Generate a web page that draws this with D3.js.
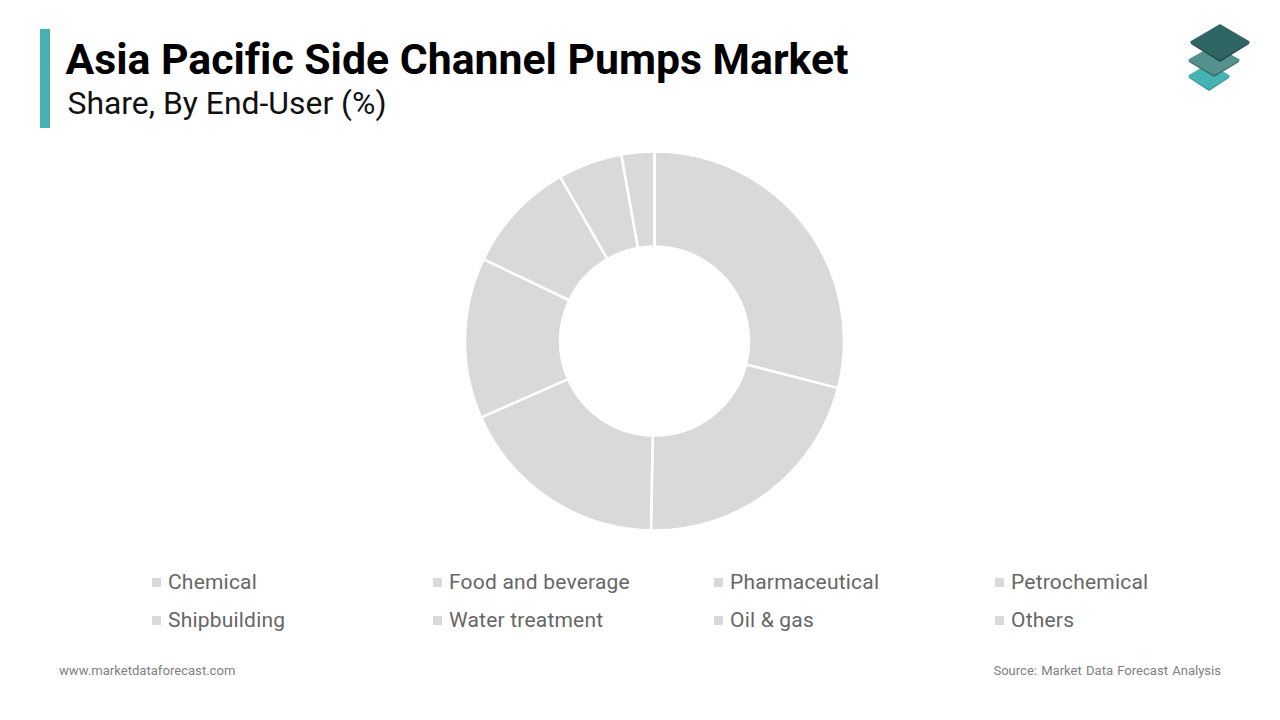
<!DOCTYPE html>
<html>
<head>
<meta charset="utf-8">
<script src="https://cdn.jsdelivr.net/npm/d3@7"></script>
<style>
    html, body { margin: 0; padding: 0; background: #fff; }
    svg { display: block; font-family: Roboto, sans-serif; font-variant-ligatures: none; }
</style>
</head>
<body>
<svg id="chart" width="1280" height="720"></svg>
<script>
const categories = ["Chemical", "Food and beverage", "Pharmaceutical", "Petrochemical",
    "Shipbuilding", "Water treatment", "Oil & gas", "Others"]
const shares = [29, 21.3, 18.1, 13.7, 9.6, 5.5, 2.8, 0]
const legendColumns = 4

const svg = d3.select("#chart")

// header
svg.append("rect").attr("x", 40).attr("y", 29).attr("width", 10).attr("height", 99).attr("fill", "#4aafaf")
svg.append("text").attr("x", 65.5).attr("y", 74)
    .attr("font-size", 42.75).attr("font-weight", 700).attr("fill", "#000")
    .text("Asia Pacific Side Channel Pumps Market")
svg.append("text").attr("x", 67.5).attr("y", 114)
    .attr("font-size", 31.9).attr("fill", "#111")
    .text("Share, By End-User (%)")

// logo
const logo = svg.append("g")
function diamond(cx, cy, w, h, fill, edge) {
    logo.append("path")
        .attr("d", `M${cx - w},${cy} L${cx},${cy + h} L${cx + w},${cy} L${cx + w},${cy + 2} L${cx},${cy + h + 3} L${cx - w},${cy + 2} Z`)
        .attr("fill", edge)
    logo.append("path")
        .attr("d", `M${cx},${cy - h} L${cx + w},${cy} L${cx},${cy + h} L${cx - w},${cy} Z`)
        .attr("fill", fill).attr("stroke", fill).attr("stroke-width", 1.5).attr("stroke-linejoin", "round")
}
diamond(1209, 76, 20, 12, "#46b3b3", "#3b9c9c")
diamond(1214, 60, 25, 14, "#55918e", "#3c6f6c")
diamond(1220, 42, 29, 17, "#2f6663", "#234e4c")

// donut
const cx = 654.5, cy = 341
const pie = d3.pie().sort(null).value(d => d)
const arc = d3.arc().innerRadius(94.5).outerRadius(189.5)

svg.append("g").attr("transform", `translate(${cx},${cy})`)
    .selectAll("path")
    .data(pie(shares))
    .join("path")
    .attr("d", arc)
    .attr("fill", "#d9d9d9")
    .attr("stroke", "#fff")
    .attr("stroke-width", 2.5)

// legend
const legendX = d3.scaleBand().domain(d3.range(legendColumns)).range([152, 1276])
const legendY = d3.scaleBand().domain([0, 1]).range([563, 639])

const legend = svg.append("g").selectAll("g")
    .data(categories)
    .join("g")
    .attr("transform", (d, i) => `translate(${legendX(i % legendColumns)},${legendY(Math.floor(i / legendColumns)) + legendY.bandwidth() / 2})`)

legend.append("rect").attr("x", 0).attr("y", -4).attr("width", 9).attr("height", 9).attr("fill", "#d9d9d9")
legend.append("text").attr("x", 16).attr("y", 7)
    .attr("font-size", 21).attr("letter-spacing", 0.2).attr("fill", "#666")
    .text(d => d)

// footer
svg.append("text").attr("x", 59).attr("y", 675)
    .attr("font-size", 13.1).attr("fill", "#808080")
    .text("www.marketdataforecast.com")
svg.append("text").attr("x", 1221).attr("y", 675).attr("text-anchor", "end")
    .attr("font-size", 13.05).attr("word-spacing", 1).attr("fill", "#808080")
    .text("Source: Market Data Forecast Analysis")
</script>
</body>
</html>
